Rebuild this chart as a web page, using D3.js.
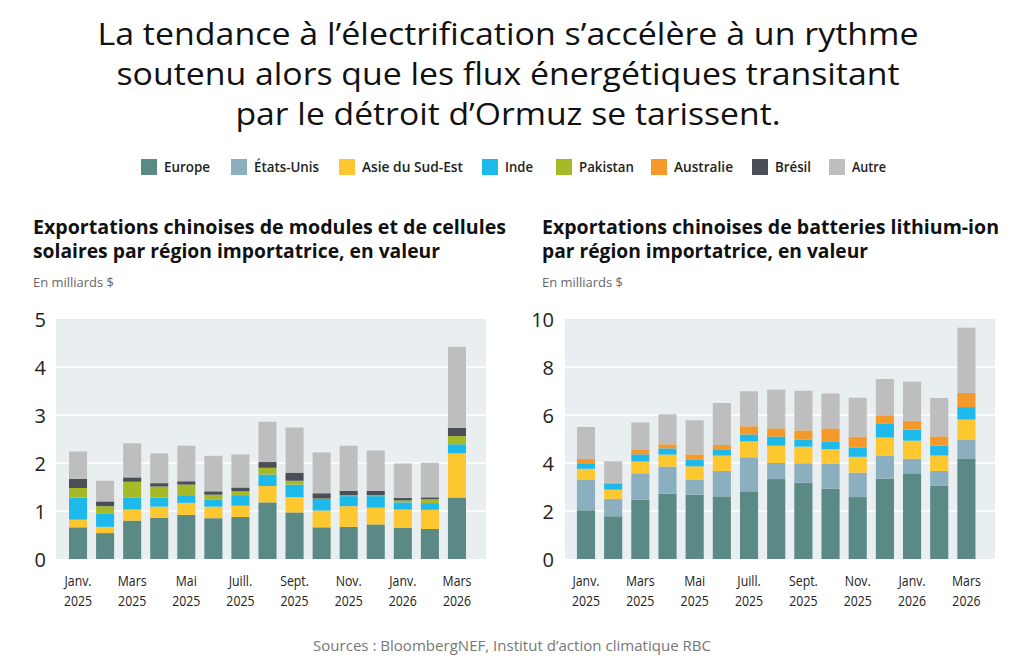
<!DOCTYPE html>
<html><head><meta charset="utf-8">
<script src="https://cdn.jsdelivr.net/npm/d3@7"></script>
<style>
body{margin:0;background:#fff;}
svg{display:block;}
text{font-family:"Open Sans","Noto Sans",sans-serif;}
</style></head>
<body><svg id="c" width="1024" height="661"></svg>
<script>
const months = ["2025-01","2025-02","2025-03","2025-04","2025-05","2025-06","2025-07","2025-08","2025-09","2025-10","2025-11","2025-12","2026-01","2026-02","2026-03"];
const tickMonths = {"2025-01":["Janv.","2025"],"2025-03":["Mars","2025"],"2025-05":["Mai","2025"],"2025-07":["Juill.","2025"],"2025-09":["Sept.","2025"],"2025-11":["Nov.","2025"],"2026-01":["Janv.","2026"],"2026-03":["Mars","2026"]};
const regions = ["Europe","États-Unis","Asie du Sud-Est","Inde","Pakistan","Australie","Brésil","Autre"];
const colors = ["#5b8985","#8bafbf","#fdc82f","#1db9ea","#a8b928","#f5992b","#4a4e56","#bebebe"];

// Solar modules & cells (billions $)
const solarEurope   = [0.66,0.54,0.80,0.86,0.92,0.85,0.875,1.18,0.97,0.66,0.67,0.72,0.65,0.625,1.28];
const solarUS       = [0,0,0,0,0,0,0,0,0,0,0,0,0,0,0];
const solarAsie     = [0.16,0.13,0.23,0.23,0.25,0.24,0.235,0.34,0.32,0.35,0.43,0.35,0.38,0.40,0.92];
const solarInde     = [0.46,0.28,0.25,0.19,0.16,0.15,0.22,0.24,0.26,0.24,0.21,0.24,0.15,0.14,0.19];
const solarPakistan = [0.20,0.15,0.33,0.23,0.22,0.10,0.08,0.14,0.08,0.01,0.02,0.02,0.04,0.08,0.17];
const solarAustralie= [0,0,0,0,0,0,0,0,0,0,0,0,0,0,0];
const solarBresil   = [0.19,0.10,0.09,0.07,0.07,0.07,0.08,0.12,0.17,0.11,0.09,0.09,0.05,0.04,0.17];
const solarAutre    = [0.57,0.43,0.71,0.62,0.74,0.74,0.69,0.84,0.94,0.85,0.94,0.84,0.72,0.72,1.69];

// Lithium-ion batteries (billions $)
const battEurope    = [2.03,1.78,2.47,2.72,2.68,2.61,2.82,3.33,3.18,2.93,2.58,3.35,3.57,3.06,4.19];
const battUS        = [1.28,0.73,1.10,1.13,0.63,1.06,1.42,0.67,0.81,1.03,1.02,0.96,0.61,0.61,0.78];
const battAsie      = [0.45,0.38,0.49,0.50,0.55,0.64,0.66,0.72,0.69,0.62,0.66,0.75,0.75,0.64,0.84];
const battInde      = [0.23,0.26,0.30,0.26,0.29,0.26,0.29,0.38,0.29,0.32,0.37,0.59,0.46,0.41,0.52];
const battPakistan  = [0,0,0,0,0,0,0,0,0,0,0,0,0,0,0];
const battAustralie = [0.19,0.03,0.21,0.17,0.21,0.18,0.34,0.34,0.39,0.54,0.47,0.34,0.37,0.39,0.59];
const battBresil    = [0,0,0,0,0,0,0,0,0,0,0,0,0,0,0];
const battAutre     = [1.32,0.89,1.12,1.25,1.42,1.75,1.46,1.62,1.65,1.46,1.62,1.51,1.63,1.60,2.72];

const solarTicks = [0,1,2,3,4,5];
const battTicks = [0,2,4,6,8,10];

const svg = d3.select("#c");

function fit(sel, w){
  sel.each(function(){
    const l = this.getComputedTextLength();
    if (Math.abs(l - w) > 1) d3.select(this).attr("textLength", w).attr("lengthAdjust","spacingAndGlyphs");
  });
}

// Title
const titleLines = [
  ["La tendance à l’électrification s’accélère à un rythme", 45, 821],
  ["soutenu alors que les flux énergétiques transitant", 85, 783],
  ["par le détroit d’Ormuz se tarissent.", 125, 545]
];
titleLines.forEach(([t,y,w])=>{
  svg.append("text").attr("x",508).attr("y",y).attr("text-anchor","middle")
    .attr("font-size",31).attr("fill","#111").text(t).call(fit,w);
});

// Legend
const legendX = [141,231,339,482,556,651,752,829];
const legendW = [46,65,101,28,55,59,36,34];
regions.forEach((r,i)=>{
  const g = svg.append("g");
  g.append("rect").attr("x",legendX[i]).attr("y",159).attr("width",16).attr("height",16).attr("fill",colors[i]);
  g.append("text").attr("x",legendX[i]+23).attr("y",172).attr("font-size",14).attr("font-weight",600)
    .attr("fill","#222").text(r).call(fit,legendW[i]);
});

// Source
svg.append("text").attr("x",512).attr("y",651).attr("text-anchor","middle").attr("font-size",15)
  .attr("fill","#777").text("Sources : BloombergNEF, Institut d’action climatique RBC").call(fit,398);

function panel(opts){
  const {x0,x1,bandRange,yTop,yBot,maxV,ticks,series,titles,tickX,titleX} = opts;
  titles.forEach(([t,y,w])=>{
    svg.append("text").attr("x",titleX).attr("y",y).attr("font-size",19).attr("font-weight",700)
      .attr("fill","#111").text(t).call(fit,w);
  });
  svg.append("text").attr("x",titleX).attr("y",287).attr("font-size",12.5).attr("fill","#666")
    .text("En milliards $").call(fit,81);

  const y = d3.scaleLinear().domain([0,maxV]).range([yBot,yTop]);
  const x = d3.scaleBand().domain(months).range(bandRange).paddingInner(1/3).paddingOuter(1/6);

  svg.append("rect").attr("x",x0).attr("y",yTop).attr("width",x1-x0).attr("height",yBot-yTop).attr("fill","#e9eef1");
  svg.append("g").selectAll("line").data(ticks.slice(1,-1)).join("line")
    .attr("x1",x0).attr("x2",x1).attr("y1",d=>y(d)).attr("y2",d=>y(d))
    .attr("stroke","#fff").attr("stroke-width",1.5);

  const rows = months.map((m,i)=>{const o={month:m}; regions.forEach((r,k)=>o[r]=series[k][i]); return o;});
  const stacked = d3.stack().keys(regions)(rows);
  svg.append("g").selectAll("g").data(stacked).join("g").attr("fill",(d,i)=>colors[i])
    .selectAll("rect").data(d=>d).join("rect")
    .attr("x",d=>x(d.data.month)).attr("width",x.bandwidth())
    .attr("y",d=>y(d[1])).attr("height",d=>Math.max(0,y(d[0])-y(d[1])));

  // y axis
  const ya = svg.append("g").attr("transform",`translate(${tickX},0)`)
    .call(d3.axisLeft(y).tickValues(ticks).tickSize(0).tickPadding(0).tickFormat(d3.format("d")));
  ya.select(".domain").remove();
  ya.selectAll("text").attr("font-size",20).attr("fill","#222").attr("font-family","Roboto, 'Noto Sans', sans-serif").attr("dy","0.36em");

  // x axis
  const xa = svg.append("g").attr("transform",`translate(0,${yBot})`)
    .call(d3.axisBottom(x).tickValues(Object.keys(tickMonths)).tickSize(0).tickFormat(""));
  xa.select(".domain").remove();
  xa.selectAll(".tick").each(function(d){
    const t = d3.select(this);
    const lab = tickMonths[d];
    t.append("text").attr("y",27).attr("text-anchor","middle").attr("font-size",15).attr("fill","#222").text(lab[0]);
    t.append("text").attr("y",47).attr("text-anchor","middle").attr("font-size",15).attr("fill","#222").text(lab[1]);
  });
  xa.selectAll("text").attr("font-family","'Open Sans','Noto Sans',sans-serif").each(function(){
    const l=this.getComputedTextLength(); d3.select(this).attr("textLength",l*0.82).attr("lengthAdjust","spacingAndGlyphs");
  });
}

panel({
  x0:56,x1:486,bandRange:[64.5,470.5],yTop:319,yBot:559,maxV:5,ticks:solarTicks,
  series:[solarEurope,solarUS,solarAsie,solarInde,solarPakistan,solarAustralie,solarBresil,solarAutre],
  titles:[["Exportations chinoises de modules et de cellules",234,473],["solaires par région importatrice, en valeur",258,407]],
  tickX:46,titleX:33
});
panel({
  x0:565,x1:995,bandRange:[572.4,980],yTop:319,yBot:559,maxV:10,ticks:battTicks,
  series:[battEurope,battUS,battAsie,battInde,battPakistan,battAustralie,battBresil,battAutre],
  titles:[["Exportations chinoises de batteries lithium-ion",234,457],["par région importatrice, en valeur",258,326]],
  tickX:554,titleX:542
});
</script></body></html>
